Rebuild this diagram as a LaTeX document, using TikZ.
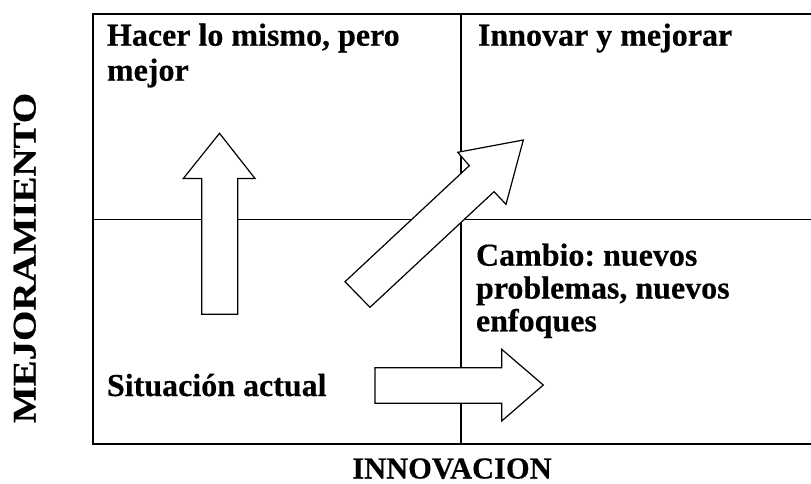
\documentclass[tikz,border=0pt]{standalone}
\usepackage{fontspec}
\setmainfont{Liberation Serif}[BoldFeatures={FakeBold=0.4}]
\frenchspacing
\begin{document}
\begin{tikzpicture}[x=1pt,y=-1pt,
  frame/.style={line width=2pt},
  divider/.style={line width=1.8pt},
  bigarrow/.style={draw=black,fill=white,line width=1.2pt,line join=miter},
  label/.style={inner sep=0pt,outer sep=0pt,align=left,font=\bfseries\fontsize{32}{35}\selectfont}]
\useasboundingbox (0,0) rectangle (811,484);
\begin{scope}
\clip (0,0) rectangle (811,484);
% quadrant lines
\draw[divider] (461,14.3) -- (461,444.3);
\draw[divider] (93,219.5) -- (820,219.5);
\draw[frame] (820,14.3) -- (93,14.3) -- (93,444.3) -- (820,444.3);
\end{scope}
% arrows
\draw[bigarrow] (219.5,133.3) -- (255,178.5) -- (237.7,178.5) -- (237.7,314.3)
  -- (201.7,314.3) -- (201.7,178.5) -- (183.3,178.5) -- cycle;
\draw[bigarrow] (523.3,140) -- (506,204.3) -- (494,191.7) -- (370,307.3)
  -- (345,281.7) -- (469.3,165.7) -- (457.7,152.3) -- cycle;
\draw[bigarrow] (543.3,385) -- (501.7,421) -- (501.7,403.3) -- (375,403.3)
  -- (375,367.7) -- (501.7,367.7) -- (501.7,349.3) -- cycle;
% texts
\node[label,anchor=north west] (q1) at (107,23.5) {Hacer lo mismo, pero\\mejor};
\node[label,anchor=north west] (q2) at (478,23.5) {Innovar y mejorar};
\node[label,anchor=north west,font=\bfseries\fontsize{32}{32.8}\selectfont] (q4) at (476,243.5) {Cambio: nuevos\\problemas, nuevos\\enfoques};
\node[label,anchor=base west] (q3) at (107,396) {Situación actual};
\node[label,anchor=base,font=\bfseries\fontsize{30.5}{34}\selectfont] (xaxis) at (452,478.5) {INNOVACION};
\node[label,anchor=base,rotate=90,font=\bfseries\fontsize{33}{36}\selectfont] (yaxis) at (35.5,258) {\scalebox{1.18}[1]{MEJORAMIENTO}};
\end{tikzpicture}
\end{document}
